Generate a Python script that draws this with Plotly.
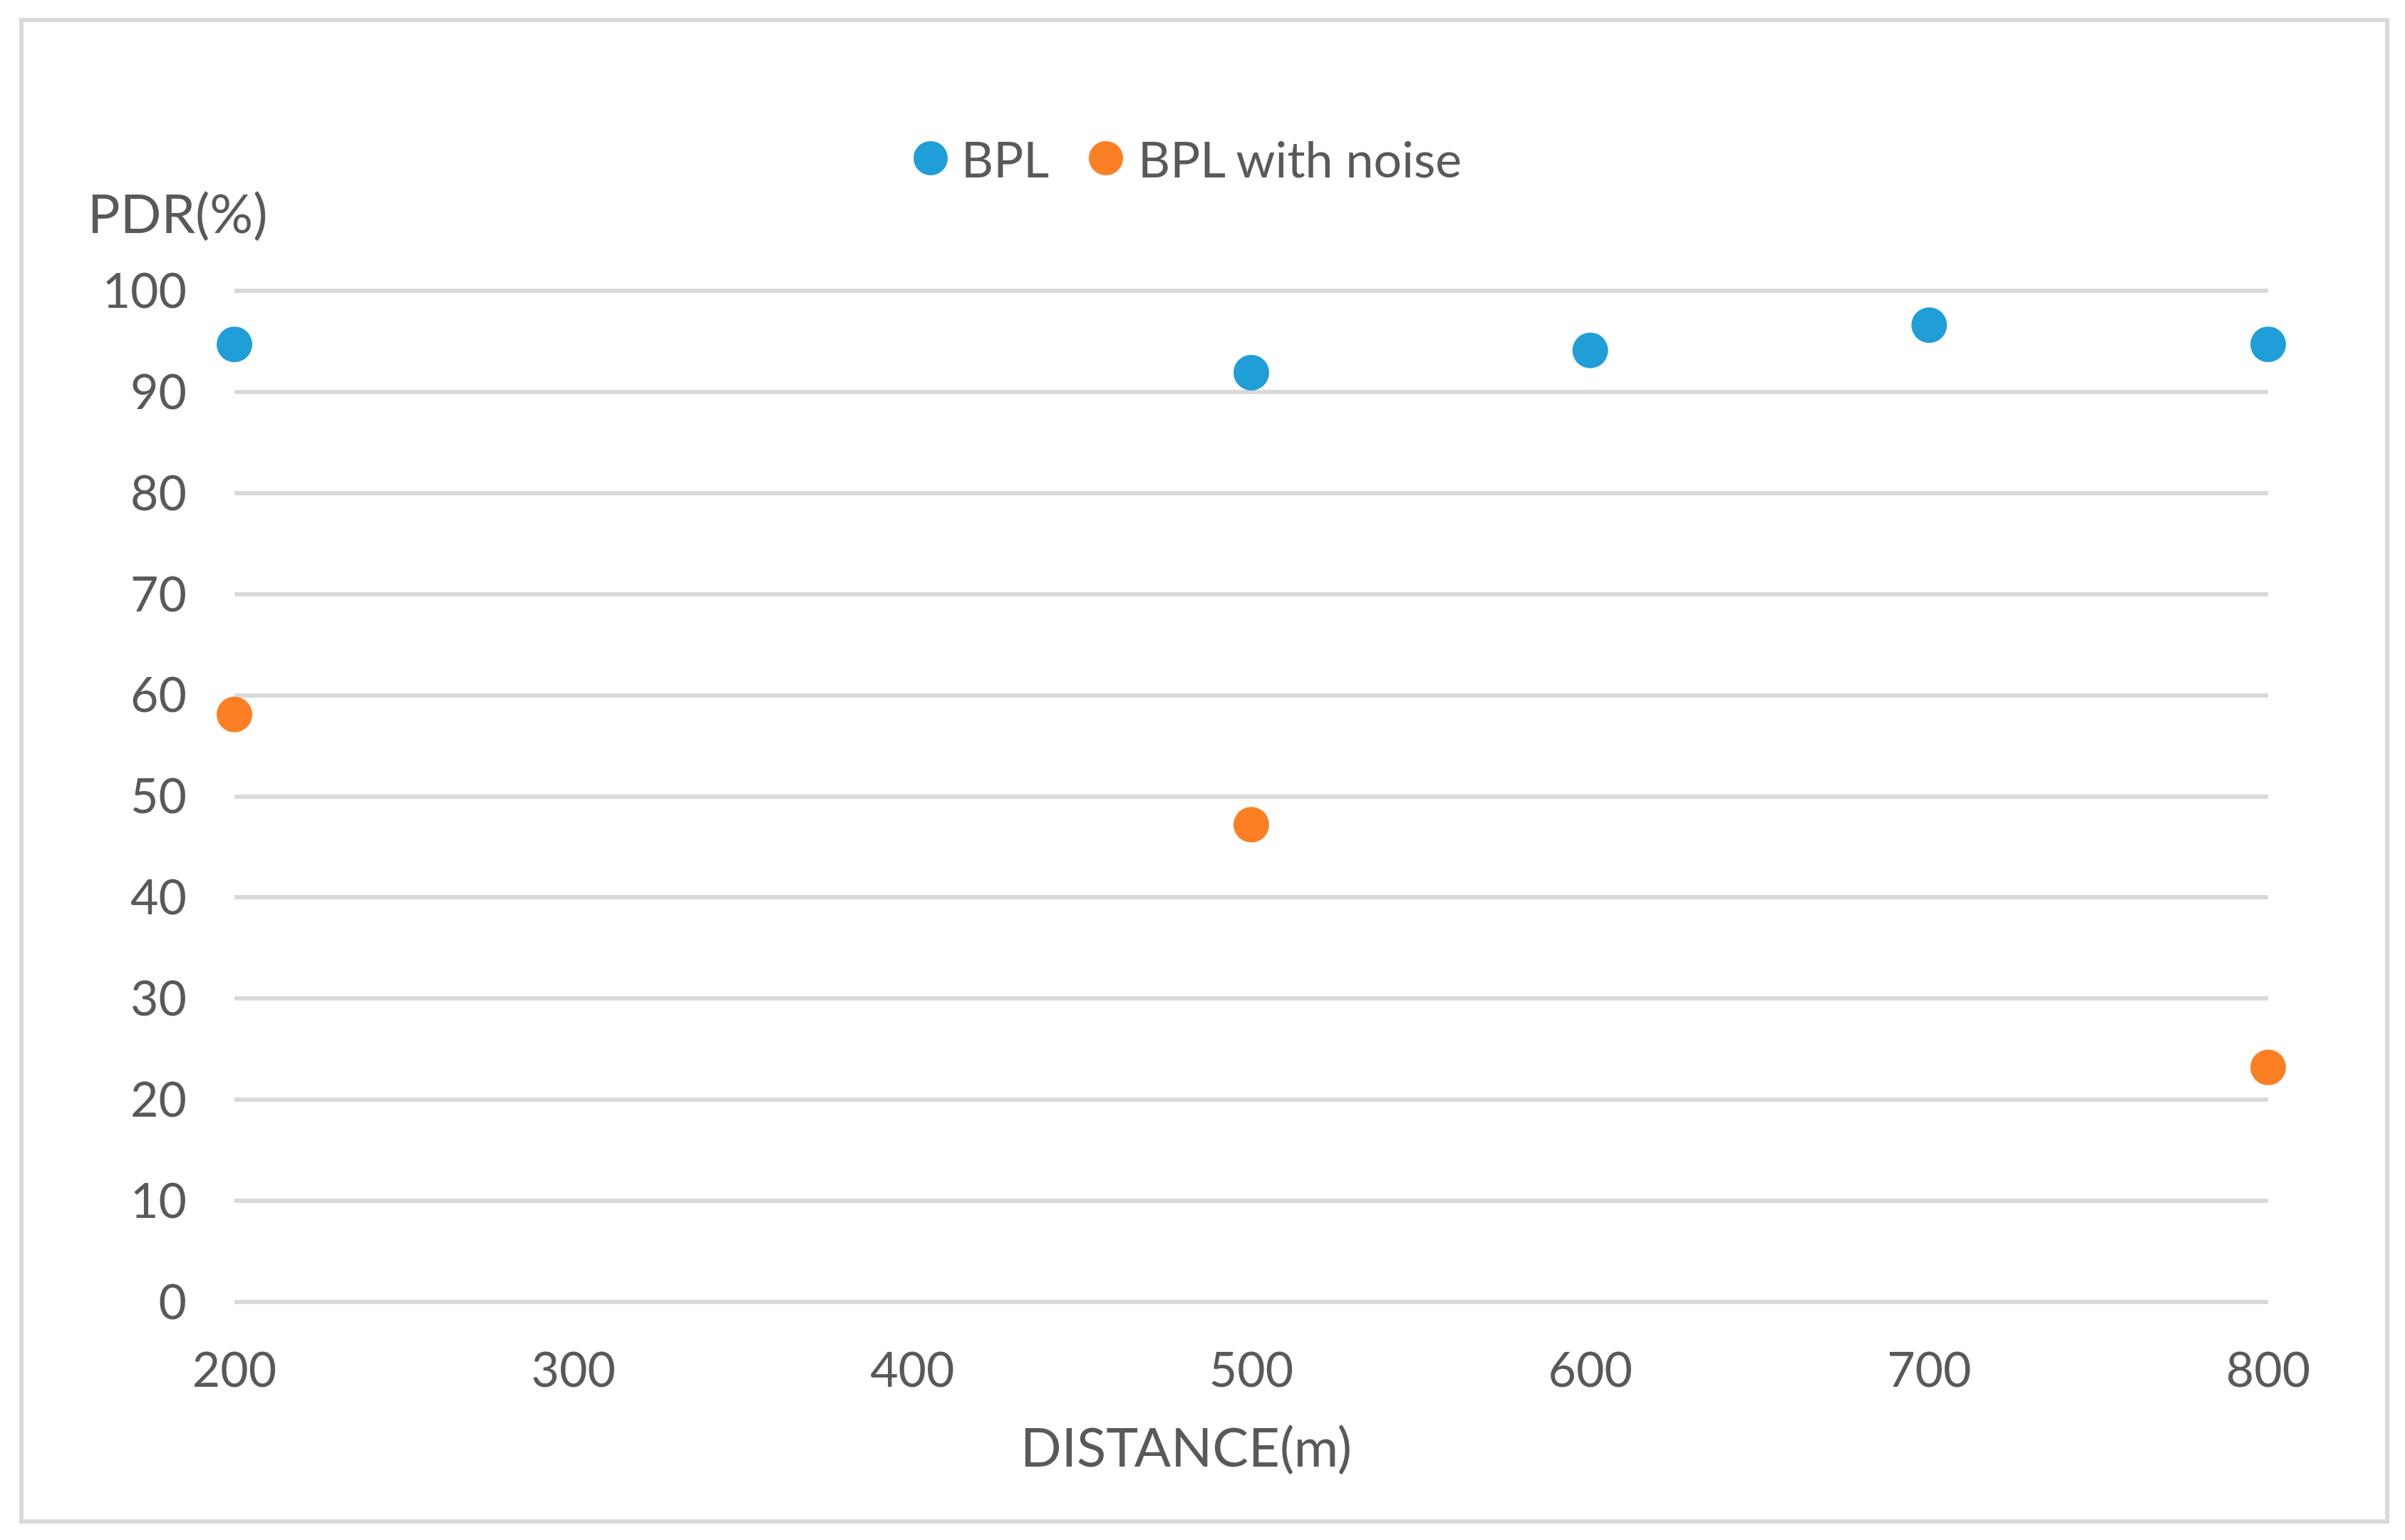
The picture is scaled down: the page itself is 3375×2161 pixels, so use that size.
import plotly.graph_objects as go

# ---- data ----
distance_bpl = [200, 500, 600, 700, 800]
pdr_bpl = [94.7, 91.9, 94.1, 96.6, 94.7]
distance_noise = [200, 500, 800]
pdr_noise = [58.1, 47.2, 23.2]
x_ticks = [200, 300, 400, 500, 600, 700, 800]
y_ticks = [0, 10, 20, 30, 40, 50, 60, 70, 80, 90, 100]
series_names = ["BPL", "BPL with noise"]
series_colors = ["#1f9ed8", "#fd7f24"]

OFF = 8  # default page body margin
W, H = 3375 - 2 * OFF, 2161 - 2 * OFF
# screen-space positions of the plot area (y 100 at 408, y 0 at 1827), padded 2px
PAD = 2
L, R, T, B = 329, 3183, 408 - PAD, 1827 + PAD
YPAD = PAD * 100 / (1827 - 408)
FONT = "Lato"
TXT = "#595959"
GRID = "#d9d9d9"
FS = 68
FS_LEG = 70
FS_TITLE = 76


def px(x):
    return (x - L) / (R - L)


def py(y):
    return (B - y) / (B - T)


fig = go.Figure()
fig.add_trace(go.Scatter(x=distance_bpl, y=pdr_bpl, mode="markers", name=series_names[0],
                         marker=dict(size=50, color=series_colors[0]), cliponaxis=False,
                         showlegend=False))
fig.add_trace(go.Scatter(x=distance_noise, y=pdr_noise, mode="markers", name=series_names[1],
                         marker=dict(size=50, color=series_colors[1]), cliponaxis=False,
                         showlegend=False))

shapes = [dict(type="rect", xref="paper", yref="paper",
               x0=px(30), x1=px(3350), y0=py(2135), y1=py(28),
               line=dict(color=GRID, width=6), fillcolor="rgba(0,0,0,0)", layer="below")]
annotations = []

legend_pos = [(1306, 1347), (1552, 1595)]
for (cx, tx), name, col in zip(legend_pos, series_names, series_colors):
    shapes.append(dict(type="circle", xref="paper", yref="paper",
                       xsizemode="pixel", ysizemode="pixel",
                       xanchor=px(cx), yanchor=py(222),
                       x0=-24, x1=24, y0=-24, y1=24,
                       fillcolor=col, line=dict(width=0)))
    annotations.append(dict(text=name, xref="paper", yref="paper", x=px(tx), y=py(222),
                            xanchor="left", yanchor="middle", showarrow=False,
                            font=dict(family=FONT, size=FS_LEG, color=TXT)))

annotations.append(dict(text="PDR(%)", xref="paper", yref="paper", x=px(121), y=py(297),
                        xanchor="left", yanchor="middle", showarrow=False,
                        font=dict(family=FONT, size=FS_TITLE, color=TXT)))
annotations.append(dict(text="DISTANCE(m)", xref="paper", yref="paper", x=px(1664), y=py(2029),
                        xanchor="center", yanchor="middle", showarrow=False,
                        font=dict(family=FONT, size=FS_TITLE, color=TXT)))

fig.update_layout(
    width=W, height=H,
    margin=dict(l=L - OFF, r=W - (R - OFF), t=T - OFF, b=H - (B - OFF), pad=0),
    paper_bgcolor="white", plot_bgcolor="white",
    font=dict(family=FONT, size=FS, color=TXT),
    shapes=shapes, annotations=annotations,
    showlegend=False,
)
fig.update_xaxes(range=[200, 800], tickvals=x_ticks, ticktext=[str(v) for v in x_ticks],
                 showgrid=False, zeroline=False, showline=False, ticks="",
                 ticklabelstandoff=48, tickfont=dict(family=FONT, size=FS, color=TXT))
fig.update_yaxes(range=[-YPAD, 100 + YPAD], tickvals=y_ticks, ticktext=[str(v) for v in y_ticks],
                 showgrid=True, gridcolor=GRID, gridwidth=6, zeroline=False, showline=False,
                 ticks="", ticklabelstandoff=66, tickfont=dict(family=FONT, size=FS, color=TXT))

fig.write_html("out.html")
